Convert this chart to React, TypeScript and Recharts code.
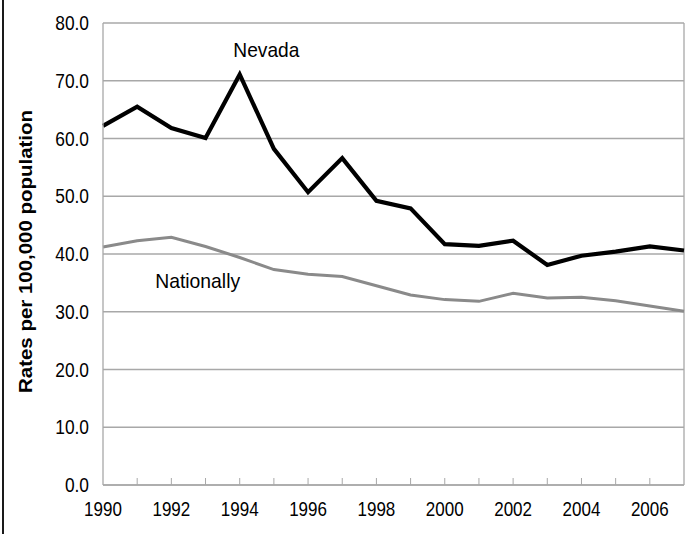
import React from "react";
import {
  LineChart,
  Line,
  XAxis,
  YAxis,
  CartesianGrid,
  ReferenceLine,
  ReferenceDot,
} from "recharts";

const years = [1990, 1991, 1992, 1993, 1994, 1995, 1996, 1997, 1998, 1999, 2000, 2001, 2002, 2003, 2004, 2005, 2006, 2007];
const nevada = [62.2, 65.5, 61.8, 60.1, 71.1, 58.2, 50.7, 56.6, 49.2, 47.9, 41.7, 41.4, 42.3, 38.1, 39.7, 40.4, 41.3, 40.6];
const nationally = [41.2, 42.3, 42.9, 41.3, 39.4, 37.3, 36.5, 36.1, 34.5, 32.9, 32.1, 31.8, 33.2, 32.4, 32.5, 31.9, 31.0, 30.1];
const yTicks = [0, 10, 20, 30, 40, 50, 60, 70, 80];
const xLabelYears = [1990, 1992, 1994, 1996, 1998, 2000, 2002, 2004, 2006];
const seriesLabels = { nevada: "Nevada", nationally: "Nationally" };
const yAxisTitle = "Rates per 100,000 population";
// label anchors (data coordinates)
const nevadaLabelAt = { x: 1994.78, y: 75.4 };
const nationallyLabelAt = { x: 1992.77, y: 35.4 };

const data = years.map((yr, i) => ({ year: yr, nevada: nevada[i], nationally: nationally[i] }));

const FONT = "'Liberation Sans', Arial, sans-serif";
const GRID = "#a8a8a8";

const XTick = (props: any) => {
  const { x, y, payload } = props;
  const v = payload.value;
  const showLabel = xLabelYears.includes(v);
  return (
    <g>
      {v !== 1990 && v !== 2007 && (
        <line x1={x} x2={x} y1={y} y2={y - 7} stroke={GRID} strokeWidth={1} />
      )}
      {showLabel && (
        <text
          transform={`translate(${x},${y + 31}) scale(0.81,1)`}
          textAnchor="middle"
          fontFamily={FONT}
          fontSize={21}
          fill="#000"
        >
          {String(v)}
        </text>
      )}
    </g>
  );
};

const YTick = (props: any) => {
  const { x, y, payload } = props;
  return (
    <text
      transform={`translate(${x},${y + 7}) scale(0.89,1)`}
      textAnchor="end"
      fontFamily={FONT}
      fontSize={19.5}
      fill="#000"
    >
      {Number(payload.value).toFixed(1)}
    </text>
  );
};

const makeLabel = (text: string, width: number) => (p: any) => {
  const vb = p.viewBox || {};
  const cx = (vb.x ?? 0) + (vb.width ?? 0) / 2;
  const cy = (vb.y ?? 0) + (vb.height ?? 0) / 2;
  return (
    <text
      x={cx}
      y={cy + 7.5}
      textAnchor="middle"
      fontFamily={FONT}
      fontSize={21}
      textLength={width}
      lengthAdjust="spacingAndGlyphs"
      fill="#000"
    >
      {text}
    </text>
  );
};

const YTitle = (p: any) => {
  const vb = p.viewBox || {};
  const cy = (vb.y ?? 0) + (vb.height ?? 0) / 2 - 2.5;
  const cx = 25;
  return (
    <text
      x={cx}
      y={cy}
      transform={`rotate(-90, ${cx}, ${cy})`}
      dy={6.5}
      textAnchor="middle"
      fontFamily={FONT}
      fontSize={19}
      fontWeight="bold"
      textLength={283}
      lengthAdjust="spacingAndGlyphs"
      fill="#000"
    >
      {yAxisTitle}
    </text>
  );
};

export default function App() {
  return (
    <div style={{ position: "absolute", left: 0, top: 0, width: 700, height: 534, background: "#fff" }}>
      <div style={{ position: "absolute", left: 2, top: 0, width: 2, height: 534, background: "#1a1a1a" }} />
      <LineChart
        width={700}
        height={534}
        data={data}
        margin={{ top: 23, right: 16, bottom: 0, left: 0 }}
      >
        <CartesianGrid vertical={false} stroke={GRID} strokeWidth={1.3} />
        <XAxis
          dataKey="year"
          type="number"
          domain={[1990, 2007]}
          ticks={years}
          interval={0}
          height={49}
          tickLine={false}
          tickSize={0}
          tickMargin={0}
          axisLine={{ stroke: GRID, strokeWidth: 1.3 }}
          tick={<XTick />}
        />
        <YAxis
          type="number"
          domain={[0, 80]}
          ticks={yTicks}
          width={103}
          tickLine={false}
          tickSize={0}
          tickMargin={14}
          axisLine={{ stroke: GRID, strokeWidth: 1.3 }}
          tick={<YTick />}
          label={{ content: YTitle }}
        />
        <ReferenceLine x={2007} stroke={GRID} strokeWidth={1.3} />
        <Line
          type="linear"
          dataKey="nationally"
          stroke="#8a8a8a"
          strokeWidth={3}
          dot={false}
          isAnimationActive={false}
        />
        <Line
          type="linear"
          dataKey="nevada"
          stroke="#000"
          strokeWidth={4.2}
          dot={false}
          isAnimationActive={false}
        />
        <ReferenceDot
          x={nevadaLabelAt.x}
          y={nevadaLabelAt.y}
          r={1}
          fill="none"
          stroke="none"
          label={{ content: makeLabel(seriesLabels.nevada, 66) }}
        />
        <ReferenceDot
          x={nationallyLabelAt.x}
          y={nationallyLabelAt.y}
          r={1}
          fill="none"
          stroke="none"
          label={{ content: makeLabel(seriesLabels.nationally, 85) }}
        />
      </LineChart>
    </div>
  );
}
